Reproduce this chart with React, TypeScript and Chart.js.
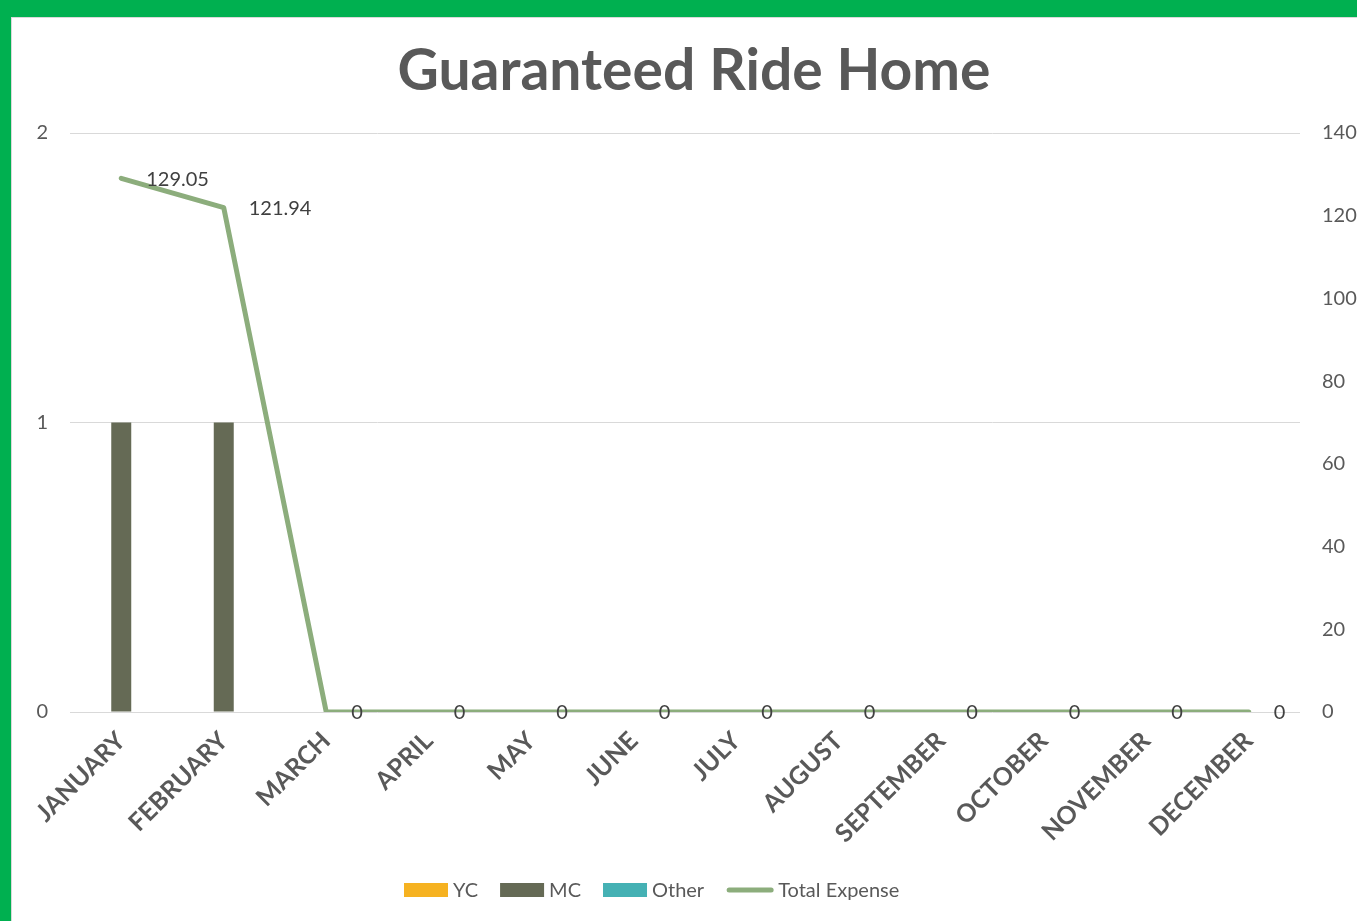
import React, { useEffect, useRef } from 'react';
import { Chart, registerables } from 'chart.js';

Chart.register(...registerables);

const months = ['JANUARY', 'FEBRUARY', 'MARCH', 'APRIL', 'MAY', 'JUNE', 'JULY', 'AUGUST', 'SEPTEMBER', 'OCTOBER', 'NOVEMBER', 'DECEMBER'];
const ycValues = [0, 0, 0, 0, 0, 0, 0, 0, 0, 0, 0, 0];
const mcValues = [1, 1, 0, 0, 0, 0, 0, 0, 0, 0, 0, 0];
const otherValues = [0, 0, 0, 0, 0, 0, 0, 0, 0, 0, 0, 0];
const totalExpense = [129.05, 121.94, 0, 0, 0, 0, 0, 0, 0, 0, 0, 0];

const TITLE = 'Guaranteed Ride Home';
const TEXT = '#595959';
const FONT = 'Lato';
const COLORS = { yc: '#F6B221', mc: '#656A55', other: '#45B1B4', total: '#8CAD7C' };

const legendItems = [
  { label: 'YC', color: COLORS.yc, kind: 'box' },
  { label: 'MC', color: COLORS.mc, kind: 'box' },
  { label: 'Other', color: COLORS.other, kind: 'box' },
  { label: 'Total Expense', color: COLORS.total, kind: 'line' },
];

const titlePlugin = {
  id: 'customTitle',
  afterDraw(chart: any) {
    const ctx = chart.ctx;
    ctx.save();
    ctx.font = `bold 57px ${FONT}`;
    ctx.fillStyle = TEXT;
    ctx.textAlign = 'center';
    ctx.textBaseline = 'alphabetic';
    ctx.fillText(TITLE, 694, 90);
    ctx.restore();
  },
};

const dataLabelPlugin = {
  id: 'lineLabels',
  afterDatasetsDraw(chart: any) {
    const ctx = chart.ctx;
    chart.data.datasets.forEach((ds: any, i: number) => {
      if (ds.type !== 'line') return;
      const meta = chart.getDatasetMeta(i);
      ctx.save();
      ctx.font = `20px ${FONT}`;
      ctx.fillStyle = '#404040';
      ctx.textAlign = 'left';
      ctx.textBaseline = 'middle';
      meta.data.forEach((pt: any, j: number) => {
        ctx.fillText(String(ds.data[j]), pt.x + 25, pt.y + 1);
      });
      ctx.restore();
    });
  },
};

const customLegend = {
  id: 'customLegend',
  afterDraw(chart: any) {
    const ctx = chart.ctx;
    ctx.save();
    ctx.font = `20px ${FONT}`;
    ctx.textBaseline = 'middle';
    ctx.textAlign = 'left';
    const y = 890;
    let x = 404;
    legendItems.forEach((it) => {
      if (it.kind === 'box') {
        ctx.fillStyle = it.color;
        ctx.fillRect(x, y - 7, 44, 14);
        x += 44 + 5;
      } else {
        ctx.strokeStyle = it.color;
        ctx.lineWidth = 5;
        ctx.lineCap = 'round';
        ctx.beginPath();
        ctx.moveTo(x + 3, y);
        ctx.lineTo(x + 45, y);
        ctx.stroke();
        x += 48 + 4;
      }
      ctx.fillStyle = TEXT;
      ctx.fillText(it.label, x, y + 1);
      x += ctx.measureText(it.label).width + 22;
    });
    ctx.restore();
  },
};

export default function App() {
  const ref = useRef<HTMLCanvasElement | null>(null);

  useEffect(() => {
    if (!ref.current) return;
    Chart.defaults.font.family = FONT;
    const chart = new Chart(ref.current, {
      type: 'bar',
      data: {
        labels: months,
        datasets: [
          { type: 'bar', label: 'YC', data: ycValues, backgroundColor: COLORS.yc, yAxisID: 'y', order: 1, categoryPercentage: 0.585, barPercentage: 1 } as any,
          { type: 'bar', label: 'MC', data: mcValues, backgroundColor: COLORS.mc, yAxisID: 'y', order: 1, categoryPercentage: 0.585, barPercentage: 1 } as any,
          { type: 'bar', label: 'Other', data: otherValues, backgroundColor: COLORS.other, yAxisID: 'y', order: 1, categoryPercentage: 0.585, barPercentage: 1 } as any,
          { type: 'line', label: 'Total Expense', data: totalExpense, borderColor: COLORS.total, backgroundColor: COLORS.total, borderWidth: 5, pointRadius: 0, tension: 0, yAxisID: 'y1', order: 0, borderCapStyle: 'round', borderJoinStyle: 'round' } as any,
        ],
      },
      options: {
        responsive: false,
        animation: false,
        layout: { padding: { top: 133, left: 0, right: 0, bottom: 60 } },
        plugins: {
          legend: { display: false },
          tooltip: { enabled: false },
          title: { display: false },
        },
        scales: {
          x: {
            grid: { display: false },
            border: { display: false },
            ticks: {
              autoSkip: false,
              minRotation: 45,
              maxRotation: 45,
              color: TEXT,
              font: { family: FONT, size: 25, weight: 'bold' },
              padding: 6,
            },
            afterFit: (s: any) => { s.height = 149; },
          },
          y: {
            position: 'left',
            min: 0,
            max: 2,
            ticks: { stepSize: 1, color: TEXT, font: { family: FONT, size: 20 }, padding: 22 },
            grid: { color: '#D9D9D9', lineWidth: 1, drawTicks: false },
            border: { display: false },
            afterFit: (s: any) => { s.width = 70; },
          },
          y1: {
            position: 'right',
            min: 0,
            max: 140,
            ticks: { stepSize: 20, color: TEXT, font: { family: FONT, size: 20 }, padding: 22 },
            grid: { display: false, drawTicks: false },
            border: { display: false },
            afterFit: (s: any) => { s.width = 57; },
          },
        },
      } as any,
      plugins: [titlePlugin, dataLabelPlugin, customLegend],
    });
    return () => chart.destroy();
  }, []);

  return (
    <div style={{ position: 'absolute', left: 0, top: 0, width: 1357, height: 921, background: '#fff', overflow: 'hidden' }}>
      <div style={{ position: 'absolute', left: 0, top: 0, width: 1357, height: 921, boxSizing: 'border-box', borderTop: '17px solid #00B050', borderLeft: '11px solid #00B050' }} />
      <div style={{ position: 'absolute', left: 11, top: 17, width: 1346, height: 904, boxSizing: 'border-box', borderTop: '1px solid #D9D9D9', borderLeft: '1px solid #D9D9D9' }} />
      <canvas ref={ref} width={1357} height={921} style={{ position: 'absolute', left: 0, top: 0, width: 1357, height: 921 }} />
    </div>
  );
}
